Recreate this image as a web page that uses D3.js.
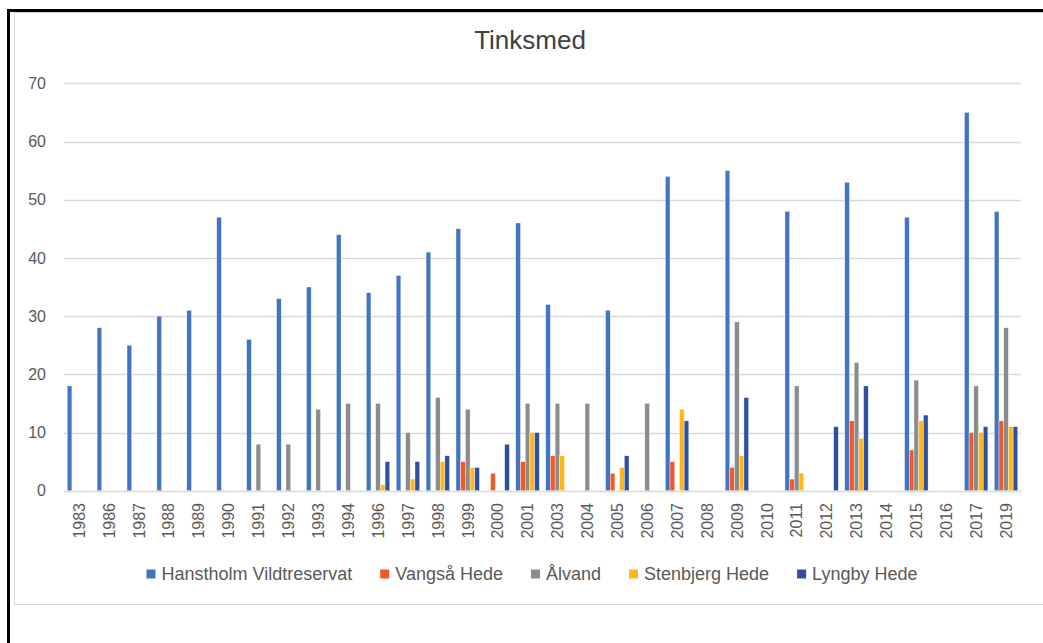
<!DOCTYPE html>
<html>
<head>
<meta charset="utf-8">
<script src="https://cdn.jsdelivr.net/npm/d3@7"></script>
<style>
  html, body { margin: 0; padding: 0; background: #fff; }
  svg { display: block; font-family: "Liberation Sans", Arial, sans-serif; }
</style>
</head>
<body>
<svg id="chart" width="1043" height="643"></svg>
<script>
// Categories (years on the x axis)
const years = ['1983', '1986', '1987', '1988', '1989', '1990', '1991', '1992', '1993', '1994',
  '1996', '1997', '1998', '1999', '2000', '2001', '2003', '2004', '2005', '2006',
  '2007', '2008', '2009', '2010', '2011', '2012', '2013', '2014', '2015', '2016',
  '2017', '2019'];

const seriesNames = ['Hanstholm Vildtreservat', 'Vangså Hede', 'Ålvand', 'Stenbjerg Hede', 'Lyngby Hede'];
const seriesColors = ['#4174c1', '#f2592a', '#8c8c8c', '#ffb619', '#2f4fa1'];

// One value per year; null = no bar
const hanstholm = [18, 28, 25, 30, 31, 47, 26, 33, 35, 44,
  34, 37, 41, 45, null, 46, 32, null, 31, null,
  54, null, 55, null, 48, null, 53, null, 47, null,
  65, 48];
const vangsaa = [null, null, null, null, null, null, null, null, null, null,
  null, null, null, 5, 3, 5, 6, null, 3, null,
  5, null, 4, null, 2, null, 12, null, 7, null,
  10, 12];
const aalvand = [null, null, null, null, null, null, 8, 8, 14, 15,
  15, 10, 16, 14, null, 15, 15, 15, null, 15,
  null, null, 29, null, 18, null, 22, null, 19, null,
  18, 28];
const stenbjerg = [null, null, null, null, null, null, null, null, null, null,
  1, 2, 5, 4, null, 10, 6, null, 4, null,
  14, null, 6, null, 3, null, 9, null, 12, null,
  10, 11];
const lyngby = [null, null, null, null, null, null, null, null, null, null,
  5, 5, 6, 4, 8, 10, null, null, 6, null,
  12, null, 16, null, null, 11, 18, null, 13, null,
  11, 11];

const seriesValues = [hanstholm, vangsaa, aalvand, stenbjerg, lyngby];
const yTicks = [0, 10, 20, 30, 40, 50, 60, 70];

const svg = d3.select('#chart');

// Frame: black outer edge and light chart border
svg.append('rect')
  .attr('x', 14.5).attr('y', 12.5)
  .attr('width', 1060).attr('height', 592)
  .attr('fill', '#fff')
  .attr('stroke', '#d9d9d9')
  .attr('stroke-width', 1);
svg.append('line')
  .attr('x1', 8.5).attr('x2', 8.5).attr('y1', 9).attr('y2', 643)
  .attr('stroke', '#000').attr('stroke-width', 3);
svg.append('line')
  .attr('x1', 7).attr('x2', 1043).attr('y1', 10.5).attr('y2', 10.5)
  .attr('stroke', '#000').attr('stroke-width', 3);

// Scales
const x0 = d3.scaleBand().domain(years).range([64, 1021]).padding(0);
const x1 = d3.scaleBand().domain(seriesNames).range([0, x0.bandwidth()])
  .paddingInner(0).paddingOuter(0.68);
const y = d3.scaleLinear().domain([0, 70]).range([490.7, 83.3]);

// Title
svg.append('text')
  .attr('x', 530).attr('y', 49)
  .attr('text-anchor', 'middle')
  .attr('fill', '#404040')
  .style('font-size', '26px')
  .text('Tinksmed');

// Gridlines + y labels
const grid = svg.append('g');
grid.selectAll('line')
  .data(yTicks)
  .join('line')
  .attr('x1', 64).attr('x2', 1021)
  .attr('y1', (d) => Math.round(y(d)) + 0.5)
  .attr('y2', (d) => Math.round(y(d)) + 0.5)
  .attr('stroke', '#d9d9d9')
  .attr('stroke-width', 1.3);
grid.selectAll('text')
  .data(yTicks)
  .join('text')
  .attr('x', 46)
  .attr('y', (d) => y(d))
  .attr('dy', '0.36em')
  .attr('text-anchor', 'end')
  .attr('fill', '#595959')
  .style('font-size', '16px')
  .text((d) => d);

// Bars
const gBars = svg.append('g');
seriesNames.forEach((name, si) => {
  const pts = years
    .map((yr, i) => ({ yr, v: seriesValues[si][i] }))
    .filter((d) => d.v !== null);
  gBars.append('g')
    .selectAll('rect')
    .data(pts)
    .join('rect')
    .attr('x', (d) => x0(d.yr) + x1(name))
    .attr('width', x1.bandwidth())
    .attr('y', (d) => y(d.v))
    .attr('height', (d) => y(0) - y(d.v))
    .attr('fill', seriesColors[si])
    .attr('stroke', '#fff')
    .attr('stroke-width', 0.4);
});

// X labels, rotated
svg.append('g')
  .selectAll('text')
  .data(years)
  .join('text')
  .attr('transform', (d) => `translate(${x0(d) + x0.bandwidth() / 2},503) rotate(-90)`)
  .attr('dy', '0.36em')
  .attr('text-anchor', 'end')
  .attr('fill', '#595959')
  .style('font-size', '16px')
  .text((d) => d);

// Legend
const legend = svg.append('g');
const itemGap = 28;
let cursor = 0;
seriesNames.forEach((name, i) => {
  const g = legend.append('g');
  g.append('rect')
    .attr('x', 0).attr('y', -4.5)
    .attr('width', 9).attr('height', 9)
    .attr('fill', seriesColors[i]);
  const t = g.append('text')
    .attr('x', 15).attr('dy', '0.36em')
    .attr('fill', '#595959')
    .style('font-size', '18px')
    .text(name);
  const w = 15 + t.node().getComputedTextLength();
  g.attr('transform', `translate(${cursor},0)`);
  cursor += w + itemGap;
});
const legendWidth = cursor - itemGap;
legend.attr('transform', `translate(${532 - legendWidth / 2},574)`);
</script>
</body>
</html>
